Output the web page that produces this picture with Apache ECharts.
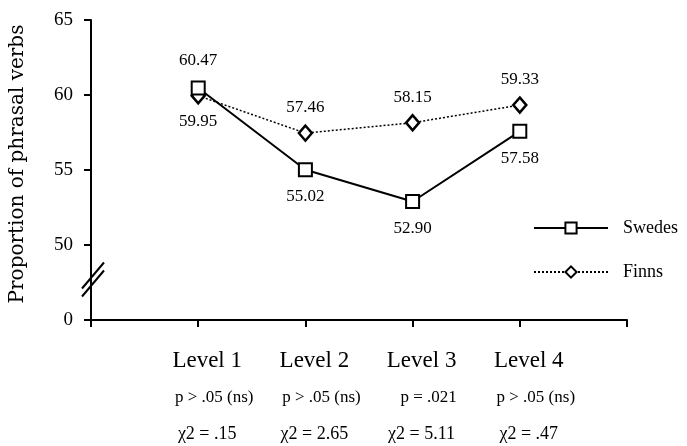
<!DOCTYPE html>
<html><head><meta charset="utf-8">
<script src="https://cdn.jsdelivr.net/npm/echarts@6/dist/echarts.min.js"></script>
<style>html,body{margin:0;padding:0;background:#fff}#c{width:687px;height:446px}</style>
</head><body><div id="c"></div>
<script>
const categories = ['Level 1', 'Level 2', 'Level 3', 'Level 4'];
const pLabels = ['p > .05 (ns)', 'p > .05 (ns)', 'p = .021', 'p > .05 (ns)'];
const chiLabels = ['\u03c72 = .15', '\u03c72 = 2.65', '\u03c72 = 5.11', '\u03c72 = .47'];
const swedes = [60.47, 55.02, 52.90, 57.58];
const finns = [59.95, 57.46, 58.15, 59.33];
const yTickLabels = {45: '0', 50: '50', 55: '55', 60: '60', 65: '65'};
const seriesNames = ['Swedes', 'Finns'];

const font = 'Liberation Serif';
const chart = echarts.init(document.getElementById('c'), null, {renderer: 'canvas'});
const toPts = arr => arr.map((v, i) => [i + 1, v]);

chart.setOption({
  animation: false,
  backgroundColor: '#fff',
  textStyle: {fontFamily: font, color: '#000'},
  grid: {left: 91, right: 60, top: 20, bottom: 126},
  legend: {
    orient: 'vertical', left: 528, top: 214,
    itemWidth: 74, itemHeight: 14, itemGap: 26,
    textStyle: {fontFamily: font, fontSize: 18, color: '#000', padding: [0, 0, 0, 10]},
    data: seriesNames
  },
  xAxis: {
    type: 'value', min: 0, max: 5, interval: 1,
    axisLine: {lineStyle: {color: '#000', width: 2}},
    axisTick: {show: true, length: 7, lineStyle: {color: '#000', width: 2}},
    splitLine: {show: false},
    axisLabel: {
      margin: 22,
      padding: [0, 0, 0, 18],
      formatter: v => {
        const i = Math.round(v) - 1;
        if (i < 0 || i >= categories.length) return '';
        return '{a|' + categories[i] + '}\n{b|' + pLabels[i] + '}\n{c|' + chiLabels[i] + '}';
      },
      rich: {
        a: {fontFamily: font, fontSize: 23, lineHeight: 37, color: '#000'},
        b: {fontFamily: font, fontSize: 17, lineHeight: 37, color: '#000', padding: [0, 0, 0, 14]},
        c: {fontFamily: font, fontSize: 18, lineHeight: 37, color: '#000'}
      }
    }
  },
  yAxis: {
    type: 'value', min: 45, max: 65, interval: 5,
    name: 'Proportion of phrasal verbs', nameLocation: 'middle', nameGap: 63,
    nameTextStyle: {fontFamily: 'DejaVu Serif', fontSize: 20, color: '#000', padding: [0, 0, 0, 12]},
    axisLine: {show: true, lineStyle: {color: '#000', width: 2}},
    axisTick: {show: true, length: 7, lineStyle: {color: '#000', width: 2}},
    splitLine: {show: false},
    axisLabel: {margin: 18, fontFamily: font, fontSize: 19, color: '#000',
      formatter: v => yTickLabels[v] !== undefined ? yTickLabels[v] : ''}
  },
  series: [
    {
      name: seriesNames[0], type: 'line', data: toPts(swedes),
      symbol: 'rect', symbolSize: 13, z: 3,
      lineStyle: {color: '#000', width: 2},
      itemStyle: {color: '#fff', borderColor: '#000', borderWidth: 2},
      label: {show: true, fontFamily: font, fontSize: 17, color: '#000', distance: 11,
        position: 'bottom',
        formatter: p => p.value[1].toFixed(2)},
      emphasis: {disabled: true}
    },
    {
      name: seriesNames[1], type: 'line', data: toPts(finns),
      symbol: 'diamond', symbolSize: [13, 15], z: 2,
      lineStyle: {color: '#000', width: 1.5, type: [2, 2]},
      itemStyle: {color: '#fff', borderColor: '#000', borderWidth: 2.5},
      label: {show: true, fontFamily: font, fontSize: 17, color: '#000', distance: 8,
        position: 'top',
        formatter: p => p.value[1].toFixed(2)},
      emphasis: {disabled: true}
    }
  ]
});

// per-point label positions: first point inverted
chart.setOption({
  series: [
    {data: toPts(swedes).map((d, i) => i === 0 ? {value: d, label: {position: 'top'}} : d)},
    {data: toPts(finns).map((d, i) => i === 0 ? {value: d, label: {position: 'bottom'}} : d)}
  ]
});

// axis break marks
const bp = chart.convertToPixel({gridIndex: 0}, [0, 47.7]);
const mk = dy => ({type: 'line', shape: {x1: bp[0] - 9, y1: bp[1] + dy + 13, x2: bp[0] + 13, y2: bp[1] + dy - 13},
  style: {stroke: '#000', lineWidth: 2}, z: 10});
chart.setOption({graphic: [mk(-4), mk(4)]});
</script>
</body></html>
